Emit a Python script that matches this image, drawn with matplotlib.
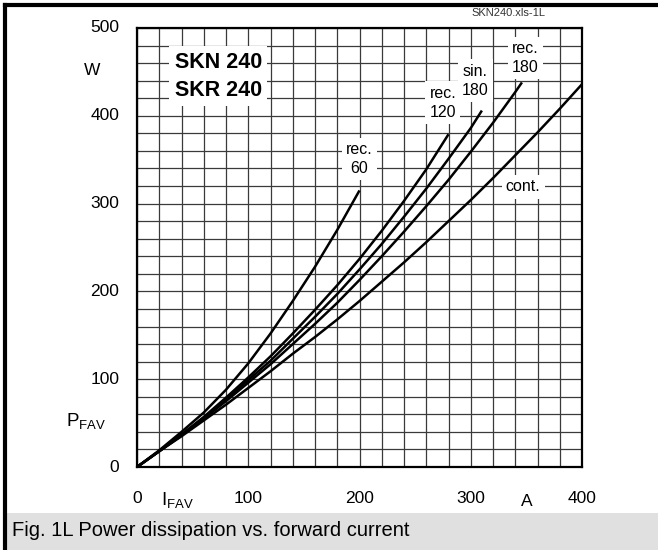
import matplotlib
matplotlib.use("Agg")
import matplotlib.pyplot as plt
from matplotlib.patches import Rectangle
from matplotlib.lines import Line2D
import numpy as np

plt.rcParams['font.family'] = ['Liberation Sans', 'DejaVu Sans']

# curves: forward current (A) -> power dissipation (W)
i_rec60 = [0, 20, 40, 60, 80, 100, 120, 140, 160, 180, 200]
p_rec60 = [0, 19, 40, 62, 88, 118, 152, 189, 228, 270, 315]

i_rec120 = [0, 20, 40, 60, 80, 100, 120, 140, 160, 180, 200, 220, 240, 260, 280]
p_rec120 = [0, 18, 37, 57, 79, 102, 126, 152, 179, 207, 237, 269, 303, 339, 379]

i_sin180 = [0, 20, 40, 60, 80, 100, 120, 140, 160, 180, 200, 220, 240, 260, 280, 300, 310]
p_sin180 = [0, 18, 36, 56, 77, 99, 121, 146, 171, 197, 225, 254, 285, 317, 351, 386, 406]

i_rec180 = [0, 20, 40, 60, 80, 100, 120, 140, 160, 180, 200, 220, 240, 260, 280, 300, 320, 340, 346]
p_rec180 = [0, 18, 36, 55, 75, 96, 117, 140, 163, 187, 213, 240, 268, 297, 327, 359, 392, 427, 438]

i_cont = [0, 20, 40, 60, 80, 100, 120, 140, 160, 180, 200, 220, 240, 260, 280, 300, 320, 340, 360, 380, 400]
p_cont = [0, 18, 35, 53, 71, 90, 109, 129, 148, 168, 189, 211, 233, 256, 280, 304, 329, 355, 381, 408, 436]

x_ticks = [0, 100, 200, 300, 400]
y_ticks = [0, 100, 200, 300, 400, 500]

fig = plt.figure(figsize=(6.58, 5.5), dpi=100)
ax = fig.add_axes([137/658, 83/550, 445/658, 439/550])

for xs, ys in [(i_rec60, p_rec60), (i_rec120, p_rec120), (i_sin180, p_sin180),
               (i_rec180, p_rec180), (i_cont, p_cont)]:
    ax.plot(xs, ys, color='black', lw=1.8, zorder=3, solid_capstyle='butt')

ax.set_xlim(0, 400)
ax.set_ylim(0, 500)
ax.set_xticks(np.arange(0, 401, 20))
ax.set_yticks(np.arange(0, 501, 20))
ax.grid(True, color='#3a3a3a', lw=0.9, zorder=1)
ax.tick_params(length=0, labelbottom=False, labelleft=False)
for s in ax.spines.values():
    s.set_linewidth(1.6)
    s.set_zorder(4)

# tick labels placed as text
for v in x_ticks:
    ax.text(v, -36, str(v), ha='center', va='center', fontsize=12.5)
for v in y_ticks:
    ax.text(-16, v, str(v), ha='right', va='center', fontsize=12.5)

ax.text(-40, 452, "W", ha='center', va='center', fontsize=12.5)
ax.text(-46, 51, r"P$_{\mathregular{FAV}}$", ha='center', va='center', fontsize=13.5)
ax.text(36, -38, r"I$_{\mathregular{FAV}}$", ha='center', va='center', fontsize=13.5)
ax.text(350, -39, "A", ha='center', va='center', fontsize=12.5)

box = dict(facecolor='white', edgecolor='none', pad=3)
for txt, y in [("SKN 240", 461), ("SKR 240", 429)]:
    ax.text(73, y, txt, ha='center', va='center', fontsize=15.5, fontweight='bold',
            bbox=dict(facecolor='white', edgecolor='none', pad=4), zorder=5)

labels = [("rec.\n60", 200, 351), ("rec.\n120", 275, 415), ("sin.\n180", 304, 440),
          ("rec.\n180", 349, 466), ("cont.", 347, 319)]
for txt, x, y in labels:
    ax.text(x, y, txt, ha='center', va='center', fontsize=11.5,
            linespacing=1.35, bbox=box, zorder=5)

# outer frame, caption band and file tag
fig.patches.append(Rectangle((7/658, 0), 651/658, 37/550, transform=fig.transFigure,
                             facecolor='#e0e0e0', edgecolor='none', zorder=0))
fig.lines.append(Line2D([5/658, 1], [545/550, 545/550], transform=fig.transFigure,
                        color='black', lw=3))
fig.lines.append(Line2D([5/658, 5/658], [0, 545/550], transform=fig.transFigure,
                        color='black', lw=3))
fig.text(12/658, 19/550, "Fig. 1L Power dissipation vs. forward current",
         ha='left', va='center', fontsize=14.5)
fig.text(508/658, 537/550, "SKN240.xls-1L", ha='center', va='center',
         fontsize=8, color='#333333')

fig.savefig("out.png", dpi=100)
